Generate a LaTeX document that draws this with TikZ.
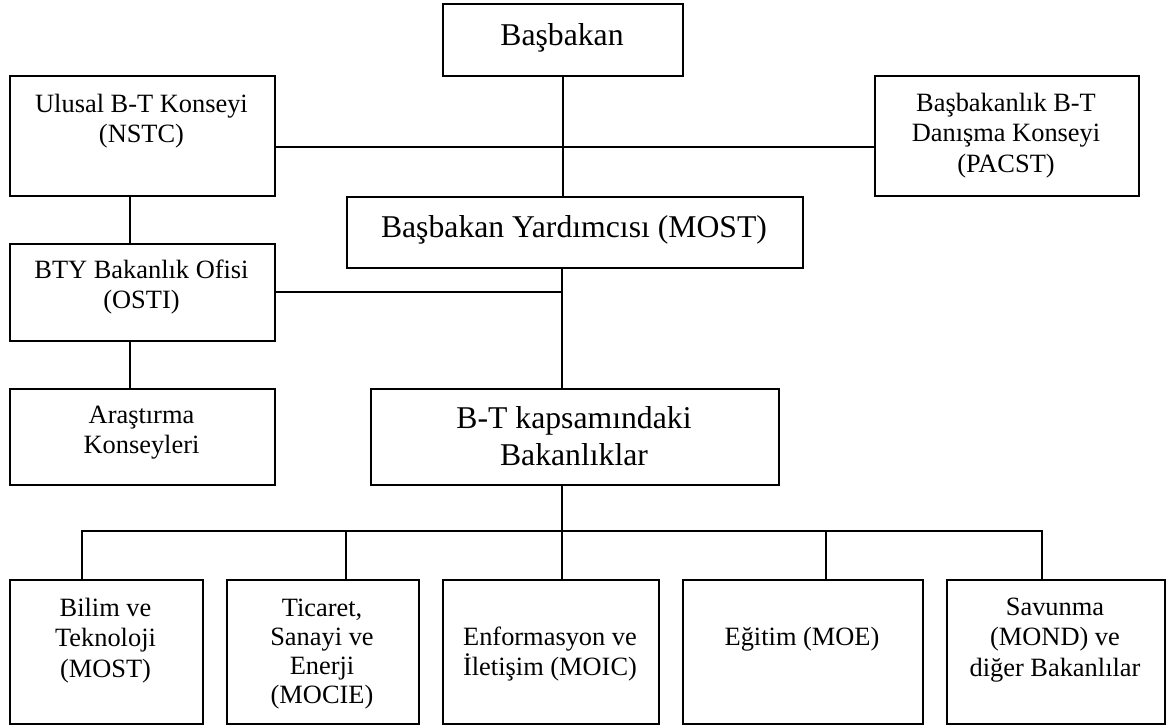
\documentclass[tikz,border=0pt]{standalone}
\usepackage{fontspec}
\setmainfont{Liberation Serif}
\newcommand{\smallfs}{\fontsize{26.4}{30.5}\selectfont}
\newcommand{\smallfsb}{\fontsize{26.4}{29.2}\selectfont}
\newcommand{\largefs}{\fontsize{31.7}{37}\selectfont}
\begin{document}
\begin{tikzpicture}[x=1pt,y=-1pt,
  box/.style={draw, line width=1.9pt, inner sep=0pt, anchor=north west},
  sl/.style={font=\smallfs, align=center, inner sep=0pt, anchor=north},
  slb/.style={font=\smallfsb, align=center, inner sep=0pt, anchor=north},
  ll/.style={font=\largefs, align=center, inner sep=0pt, anchor=north},
  conn/.style={line width=1.9pt}]
\useasboundingbox (0,0) rectangle (1167,726);

% boxes
\node[box, minimum width=240pt, minimum height=72pt]  (bas)   at (442,3) {};
\node[box, minimum width=265pt, minimum height=120pt] (nstc)  at (9,75) {};
\node[box, minimum width=264pt, minimum height=120pt] (pacst) at (874,75) {};
\node[box, minimum width=456pt, minimum height=71pt]  (most)  at (346,196) {};
\node[box, minimum width=265pt, minimum height=97pt]  (osti)  at (9,243) {};
\node[box, minimum width=265pt, minimum height=96pt]  (arast) at (9,388) {};
\node[box, minimum width=408pt, minimum height=96pt]  (btk)   at (370,388) {};
\node[box, minimum width=193pt, minimum height=144pt] (b1)    at (9,579) {};
\node[box, minimum width=192pt, minimum height=144pt] (b2)    at (226,579) {};
\node[box, minimum width=216pt, minimum height=144pt] (b3)    at (442,579) {};
\node[box, minimum width=240pt, minimum height=144pt] (b4)    at (682,579) {};
\node[box, minimum width=218pt, minimum height=144pt] (b5)    at (946,579) {};

% texts
\node[ll] (tbas)   at (562,16)    {\rule{0pt}{29pt}Başbakan};
\node[sl] (tnstc)  at (141.5,88)  {\rule{0pt}{24pt}Ulusal B-T Konseyi\\(NSTC)};
\node[sl] (tpacst) at (1006,87)   {\rule{0pt}{24pt}Başbakanlık B-T\\Danışma Konseyi\\(PACST)};
\node[ll] (tmost)  at (574,208)   {\rule{0pt}{29pt}Başbakan Yardımcısı (MOST)};
\node[sl] (tosti)  at (141.5,254) {\rule{0pt}{24pt}BTY Bakanlık Ofisi\\(OSTI)};
\node[sl] (tarast) at (141.5,399) {\rule{0pt}{24pt}Araştırma\\Konseyleri};
\node[ll] (tbtk)   at (574,399)   {\rule{0pt}{29pt}B-T kapsamındaki\\Bakanlıklar};
\node[sl] (tb1)    at (105.5,592) {\rule{0pt}{24pt}Bilim ve\\Teknoloji\\(MOST)};
\node[slb] (tb2)   at (322,592)   {\rule{0pt}{24pt}Ticaret,\\Sanayi ve\\Enerji\\(MOCIE)};
\node[sl] (tb3)    at (550,621)   {\rule{0pt}{24pt}Enformasyon ve\\İletişim (MOIC)};
\node[sl] (tb4)    at (802,621)   {\rule{0pt}{24pt}Eğitim (MOE)};
\node[sl] (tb5)    at (1055,591)  {\rule{0pt}{24pt}Savunma\\(MOND) ve\\diğer Bakanlılar};

% junction coordinates
\coordinate (jtop) at (562,147);
\coordinate (jmid) at (562,292);
\coordinate (jbot) at (562,531);
\coordinate (xl)   at (130,0);
\coordinate (d1) at (82,531);
\coordinate (d2) at (346,531);
\coordinate (d4) at (826,531);
\coordinate (d5) at (1042,531);

% connectors
\draw[conn] (bas.south) -- (most.north -| bas.south);
\draw[conn] (nstc.east |- jtop) -- (pacst.west |- jtop);
\draw[conn] (nstc.south -| xl) -- (osti.north -| xl);
\draw[conn] (osti.south -| xl) -- (arast.north -| xl);
\draw[conn] (most.south -| jmid) -- (btk.north -| jmid);
\draw[conn] (osti.east |- jmid) -- (jmid);
\draw[conn] (btk.south -| jbot) -- (jbot);
\draw[conn, line cap=rect] (d1) -- (d5);
\draw[conn] (d1) -- (b1.north -| d1);
\draw[conn] (d2) -- (b2.north -| d2);
\draw[conn] (jbot) -- (b3.north -| jbot);
\draw[conn] (d4) -- (b4.north -| d4);
\draw[conn] (d5) -- (b5.north -| d5);
\end{tikzpicture}
\end{document}
